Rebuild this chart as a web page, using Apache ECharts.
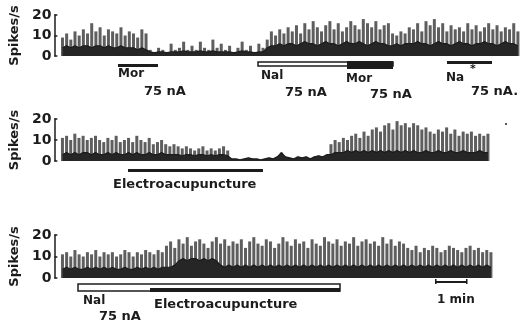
<!DOCTYPE html>
<html>
<head>
<meta charset="utf-8">
<script src="https://cdn.jsdelivr.net/npm/echarts@6/dist/echarts.min.js"></script>
<style>
  html, body { margin: 0; padding: 0; background: #fff; }
  #chart { width: 520px; height: 325px; }
</style>
</head>
<body>
<div id="chart"></div>
<script>
// spike rate, peaks of each bin (spikes/s) and the dark floor under them
const peaks1 = [
  9, 11, 8, 12, 10, 13, 11, 16, 12, 14, 10, 13, 12, 11, 14, 10, 12, 11, 9, 13, 11,
  3, 2, 4, 3, 2, 6, 3, 4, 7, 3, 5, 3, 7, 4, 3, 8, 4, 6, 3, 5, 2, 4, 7, 3, 5, 2, 6, 4,
  8, 12, 10, 13, 11, 14, 12, 15, 11, 16, 13, 17, 14, 12, 15, 17, 13, 16, 12, 14, 17, 15, 13, 18, 16, 14, 17, 13, 15, 16,
  11, 10, 12, 11, 14,
  13, 16, 12, 17, 15, 18, 14, 16, 12, 15, 13, 14, 12, 16, 13, 15, 12, 14, 16, 13, 15, 12, 14, 13, 16, 12
]
const floor1 = [
  4, 5, 4, 5, 4, 5, 5, 4, 5, 5, 4, 5, 4, 4, 5, 4, 4, 4, 3, 4, 3,
  2, 1.5, 2, 2, 1.5, 2, 2, 2, 2.5, 2, 2, 2, 2.5, 2, 2, 2.5, 2, 2, 2, 2, 1.5, 2, 2.5, 2, 2, 1.5, 2, 2,
  4, 5, 5, 6, 5, 6, 6, 5, 6, 7, 6, 6, 5, 6, 7, 6, 6, 5, 6, 7, 6, 6, 7, 6, 5, 6, 7, 6, 6, 5,
  5, 6, 5, 6, 6,
  6, 7, 6, 6, 5, 6, 7, 6, 6, 5, 6, 7, 6, 6, 5, 6, 6, 7, 6, 6, 5, 6, 7, 6, 6, 5
]
const peaks2 = [
  11, 12, 10, 13, 11, 12, 10, 11, 12, 10, 9, 11, 10, 12, 9, 10, 11, 9, 12, 10, 9, 11, 8, 9, 10, 8, 7, 8, 7, 6, 7, 6, 5, 6, 7, 5, 6, 5, 6, 7, 5,
  1, 1, 0.5, 1, 1.5, 1, 1, 0.5, 1, 1.5, 1, 2, 4, 2, 1.5, 1, 2, 1.5, 2, 1, 2, 2.5, 2, 3,
  8, 10, 9, 11, 10, 12, 13, 11, 14, 12, 15, 16, 14, 17, 18, 15, 19, 17, 18, 16, 18, 17, 15, 16, 14, 13, 15, 14, 16, 13, 15, 12, 14, 13, 14, 12, 13, 12, 13
]
const floor2 = [
  3, 4, 3, 4, 3, 4, 4, 3, 4, 3, 3, 4, 3, 4, 3, 3, 4, 3, 4, 3, 3, 4, 3, 3, 4, 3, 3, 3, 3, 2.5, 3, 3, 2.5, 3, 3, 2.5, 3, 2.5, 3, 3, 2.5,
  1, 1, 0.5, 1, 1.5, 1, 1, 0.5, 1, 1.5, 1, 2, 4, 2, 1.5, 1, 2, 1.5, 2, 1, 2, 2.5, 2, 3,
  3, 4, 4, 4, 5, 4, 5, 4, 5, 4, 5, 4, 5, 4, 5, 4, 5, 4, 5, 4, 5, 4, 4, 5, 4, 4, 5, 4, 4, 5, 4, 4, 5, 4, 4, 4, 5, 4, 4
]
const peaks3 = [
  11, 12, 10, 13, 11, 10, 12, 11, 13, 10, 12, 11, 12, 10, 11, 13, 12, 10, 12, 11, 13, 12, 11, 13, 12,
  15, 17, 14, 18, 16, 19, 15, 17, 18, 16, 14, 17, 19, 16, 18, 15, 17, 16, 18, 14, 17, 19, 16, 15, 18, 17, 14, 16, 19, 17,
  15, 18, 16, 17, 14, 18, 16, 15, 19, 17, 16, 18, 15, 17, 16, 19, 15, 17, 18, 16, 17, 15, 19, 16, 18, 15, 17, 16,
  14, 13, 15, 12, 14, 13, 15, 14, 12, 13, 15, 14, 13, 12, 14, 15, 13, 14, 12, 13, 12
]
const floor3 = [
  4, 5, 4, 5, 4, 4, 5, 4, 5, 4, 5, 4, 5, 4, 4, 5, 4, 4, 5, 4, 5, 4, 5, 4, 5,
  5, 5, 6, 8, 9, 8, 9, 9, 8, 9, 8, 9, 8, 6, 5, 6, 5, 6, 5, 6, 5, 6, 5, 6, 5, 6, 5, 6, 5, 6,
  5, 6, 5, 6, 5, 6, 5, 6, 5, 6, 5, 6, 5, 6, 5, 6, 5, 6, 5, 6, 5, 6, 5, 6, 5, 6, 5, 6,
  5, 6, 5, 6, 5, 6, 5, 6, 5, 6, 5, 6, 5, 6, 5, 6, 5, 6, 5, 6, 5
]
const yTicks = [0, 10, 20]
const panels = [
  { peaks: peaks1, floor: floor1, grid: { left: 55, right: 0, top: 15, height: 41 } },
  { peaks: peaks2, floor: floor2, grid: { left: 57, right: 30, top: 119, height: 42 } },
  { peaks: peaks3, floor: floor3, grid: { left: 57, right: 27, top: 235, height: 43 } },
]

const FONT = 'DejaVu Sans'
const ink = '#1c1c1c'

const label = (text, x, y, size) => ({
  type: 'text', left: x, top: y,
  style: { text, fill: ink, font: `bold ${size || 12}px "${FONT}"` }
})
const solid = (x, y, w, h) => ({
  type: 'rect', shape: { x, y, width: w, height: h }, style: { fill: ink }
})
const hollow = (x, y, w, h) => ({
  type: 'rect', shape: { x, y, width: w, height: h }, style: { fill: '#fff', stroke: ink, lineWidth: 1.5 }
})

const chart = echarts.init(document.getElementById('chart'), null, { renderer: 'canvas' })

chart.setOption({
  animation: false,
  backgroundColor: '#fff',
  grid: panels.map(p => p.grid),
  xAxis: panels.map((p, i) => ({
    type: 'category',
    gridIndex: i,
    data: p.peaks.map((v, k) => k),
    show: false,
  })),
  yAxis: panels.map((p, i) => ({
    type: 'value',
    gridIndex: i,
    min: yTicks[0],
    max: yTicks[2],
    interval: yTicks[1],
    offset: 6,
    name: 'Spikes/s',
    nameLocation: 'middle',
    nameRotate: 90,
    nameGap: 30,
    nameTextStyle: { color: ink, fontFamily: FONT, fontWeight: 'bold', fontSize: 13 },
    axisLine: { show: true, lineStyle: { color: ink, width: 1.5 } },
    axisTick: { show: true, inside: true, length: 3, lineStyle: { color: ink, width: 1.5 } },
    axisLabel: { color: ink, fontFamily: FONT, fontWeight: 'bold', fontSize: 14, margin: 3 },
    splitLine: { show: false },
  })),
  series: [
    ...panels.map((p, i) => ({
      type: 'bar',
      xAxisIndex: i,
      yAxisIndex: i,
      data: p.peaks,
      barWidth: 3,
      itemStyle: { color: '#5e5e5e' },
      z: 2,
    })),
    ...panels.map((p, i) => ({
      type: 'line',
      xAxisIndex: i,
      yAxisIndex: i,
      data: p.floor,
      symbol: 'none',
      lineStyle: { color: ink, width: 1.2 },
      areaStyle: { color: '#262626', opacity: 1 },
      z: 3,
    })),
  ],
  graphic: [
    // top panel: drugs
    solid(118, 64, 40, 3),
    label('Mor', 118, 68),
    label('75 nA', 144, 85, 13),
    hollow(258, 62, 135, 4),
    solid(347, 61, 46, 8),
    label('Nal', 261, 70),
    label('75 nA', 285, 86, 13),
    label('Mor', 346, 73),
    label('75 nA', 370, 88, 13),
    solid(447, 61, 45, 3),
    label('Na', 446, 72),
    label('*', 470, 64, 11),
    label('75 nA.', 471, 85, 13),
    // middle panel
    solid(128, 169, 135, 3),
    label('Electroacupuncture', 113, 178, 13),
    { type: 'circle', shape: { cx: 506, cy: 124, r: 1 }, style: { fill: ink } },
    // bottom panel
    hollow(78, 284, 262, 7),
    solid(150, 288, 190, 4),
    label('Nal', 83, 295),
    label('75 nA', 99, 310, 13),
    label('Electroacupuncture', 154, 298, 13),
    solid(435, 281, 32, 2),
    solid(435, 279, 1.5, 5),
    solid(466, 279, 1.5, 5),
    label('1 min', 437, 294, 12),
  ],
})
</script>
</body>
</html>
